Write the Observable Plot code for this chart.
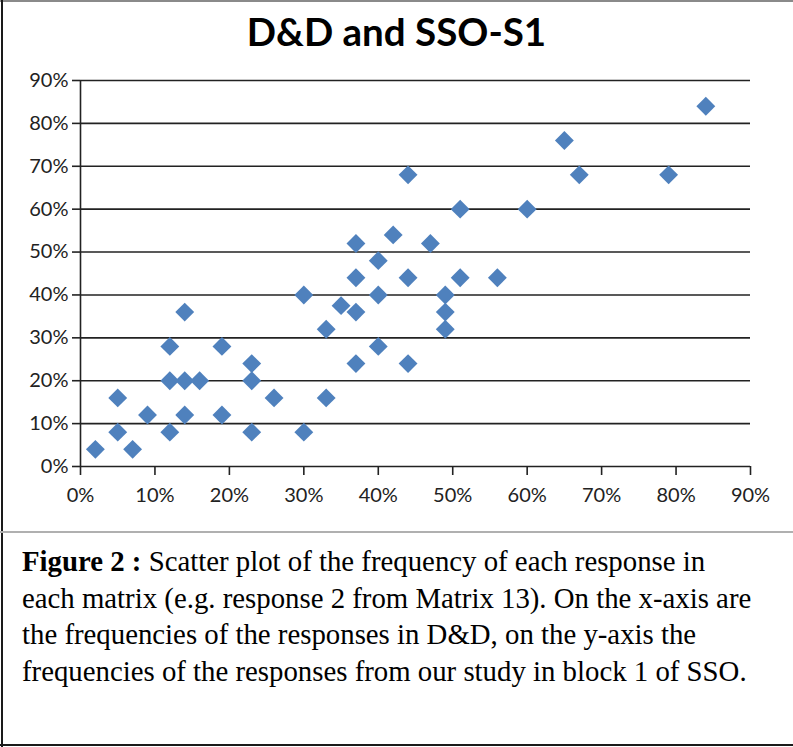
<!DOCTYPE html>
<html>
<head>
<meta charset="utf-8">
<script src="https://cdn.jsdelivr.net/npm/d3@7"></script>
<script src="https://cdn.jsdelivr.net/npm/@observablehq/plot@0.6"></script>
<style>
  html, body { margin: 0; padding: 0; background: #fff; }
  #wrap { position: relative; width: 793px; height: 747px; overflow: hidden; background: #fff; }
  .edge { position: absolute; }
  #title { position: absolute; left: 0; width: 793px; top: 6px; text-align: center;
           font-family: Lato, sans-serif; font-weight: bold; font-size: 38.5px; line-height: 50px; color: #000; }
  #chart { position: absolute; left: 0; top: 0; }
  #caption { position: absolute; left: 22px; top: 543px; font-family: "Liberation Serif", "Times New Roman", serif;
             font-size: 28.8px; line-height: 36.5px; color: #000; white-space: nowrap; }
</style>
</head>
<body>
<div id="wrap">
  <div class="edge" style="left:0;top:0;width:793px;height:2px;background:#8a8a8a"></div>
  <div class="edge" style="left:1px;top:0;width:2px;height:747px;background:#1a1a1a"></div>
  <div class="edge" style="left:0;top:744px;width:793px;height:2px;background:#1a1a1a"></div>
  <div class="edge" style="left:0;top:531px;width:793px;height:2px;background:#b0b0b0"></div>
  <div id="chart"></div>
  <div id="title">D&amp;D and SSO-S1</div>
  <div id="caption"><b>Figure 2 :</b> Scatter plot of the frequency of each response in<br>each matrix (e.g. response 2 from Matrix 13). On the x-axis are<br>the frequencies of the responses in D&amp;D, on the y-axis the<br>frequencies of the responses from our study in block 1 of SSO.</div>
</div>
<script>
// D&D frequency (%) on x, SSO block 1 frequency (%) on y
const ddFreq  = [2, 5, 5, 7, 9, 12, 12, 12, 14, 14, 14, 16, 19, 19, 23, 23, 23, 26, 30, 30, 33, 33, 35, 37, 37, 37, 37, 40, 40, 40, 42, 44, 44, 44, 47, 49, 49, 49, 51, 51, 56, 60, 65, 67, 79, 84];
const ssoFreq = [4, 16, 8, 4, 12, 28, 20, 8, 36, 20, 12, 20, 28, 12, 24, 20, 8, 16, 40, 8, 32, 16, 37.5, 52, 44, 36, 24, 48, 40, 28, 54, 68, 44, 24, 52, 40, 36, 32, 60, 44, 44, 60, 76, 68, 68, 84];
const tickValues = [0, 10, 20, 30, 40, 50, 60, 70, 80, 90];
const gridValues = [10, 20, 30, 40, 50, 60, 70, 80, 90];

const points = ddFreq.map((x, i) => ({x, y: ssoFreq[i]}));
const ink = "#222";

const chart = Plot.plot({
  width: 793,
  height: 532,
  marginLeft: 80,
  marginRight: 43,
  marginTop: 80,
  marginBottom: 66,
  style: {fontFamily: "Lato, sans-serif", fontSize: "20px", color: ink, background: "transparent"},
  x: {domain: [0, 90], label: null},
  y: {domain: [0, 90], label: null},
  marks: [
    Plot.ruleY(gridValues, {stroke: ink, strokeWidth: 1.6}),
    Plot.ruleY([0], {stroke: ink, strokeWidth: 1.6}),
    Plot.ruleX([0], {stroke: ink, strokeWidth: 1.6}),
    Plot.axisY({ticks: tickValues, tickSize: 8, tickPadding: 4, stroke: ink, strokeWidth: 1.6, fill: ink, fontSize: 20, tickFormat: d => d + "%", label: null}),
    Plot.axisX({ticks: tickValues, tickSize: 9, tickPadding: 12, stroke: ink, strokeWidth: 1.6, fill: ink, fontSize: 20, tickFormat: d => d + "%", label: null}),
    Plot.dot(points, {x: "x", y: "y", symbol: "diamond2", r: 8.5, fill: "#4F81BD"})
  ]
});
document.getElementById("chart").appendChild(chart);
</script>
</body>
</html>
